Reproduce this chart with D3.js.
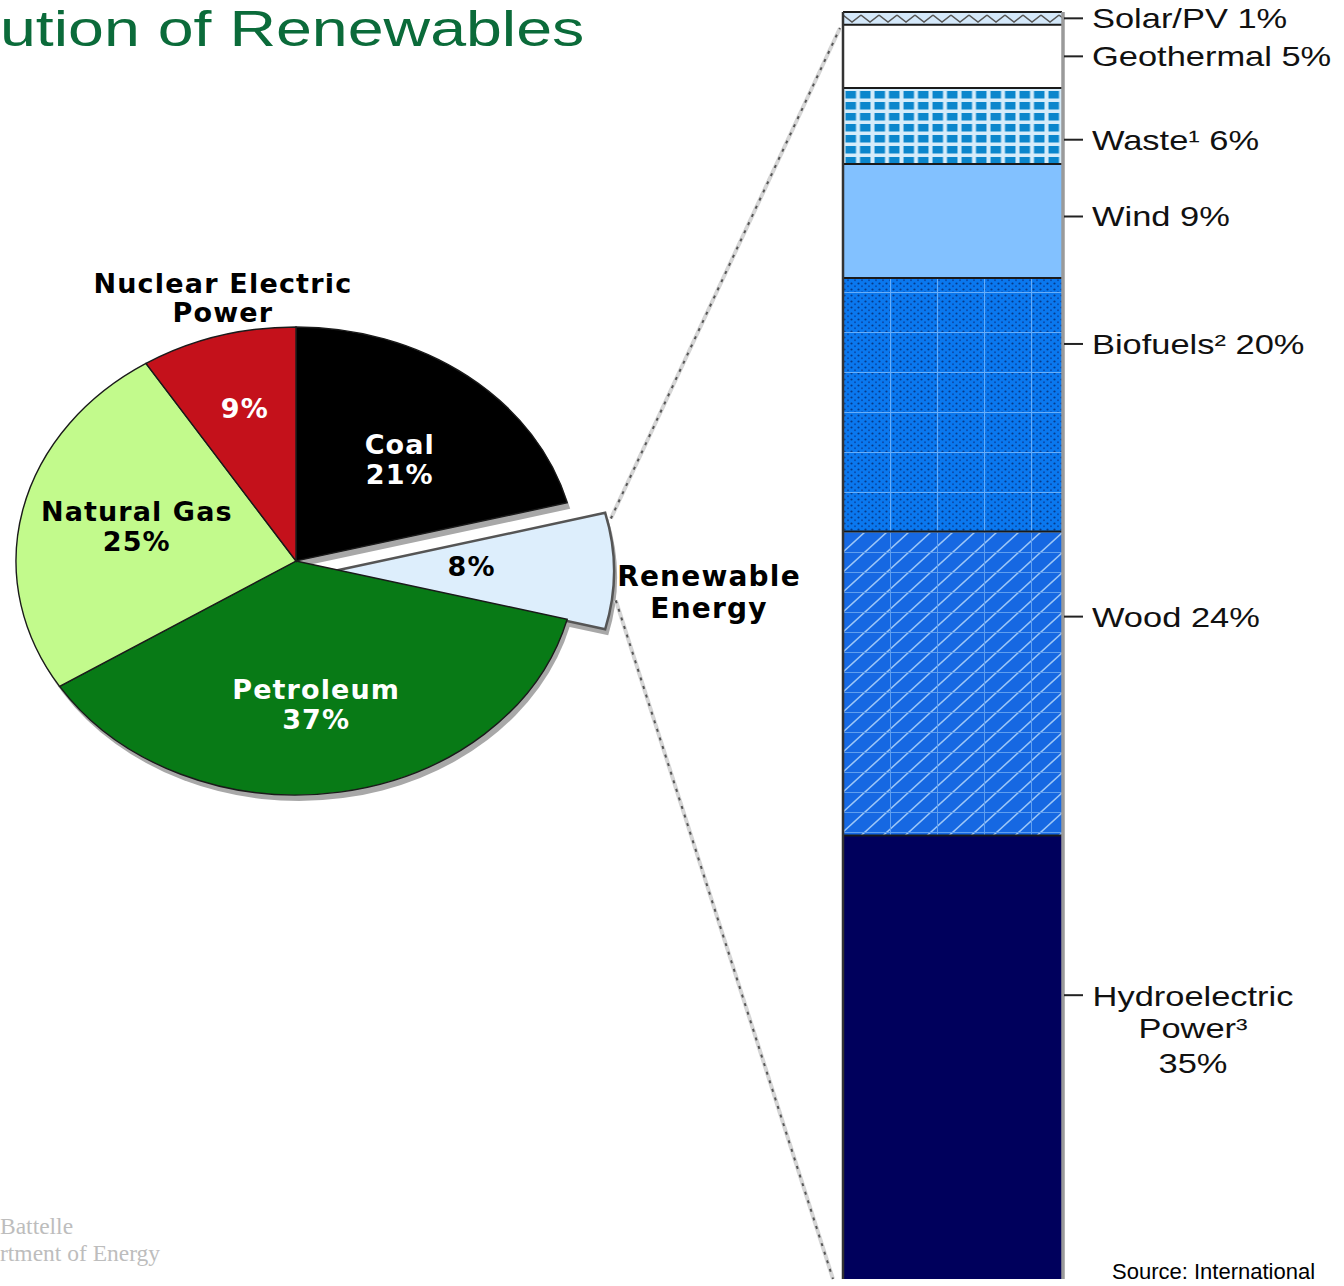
<!DOCTYPE html>
<html><head><meta charset="utf-8">
<script src="https://cdn.jsdelivr.net/npm/d3@7"></script>
<style>body{margin:0;background:#fff;} svg{display:block;}</style>
</head><body>
<svg id="chart" width="1344" height="1286"></svg>
<script>
// ---------- DATA ----------
const pieCategories = ["Coal", "Renewable Energy", "Petroleum", "Natural Gas", "Nuclear Electric Power"];
const pieValues = [21, 8, 37, 25, 9];
const renewCategories = ["Solar/PV", "Geothermal", "Waste¹", "Wind", "Biofuels²", "Wood", "Hydroelectric Power³"];
const renewValues = [1, 5, 6, 9, 20, 24, 35];
const titleText = "ution of Renewables";          // visible part of the slide title
const footerLines = ["Battelle", "rtment of Energy"]; // visible part of the footer
const sourceText = "Source: International";

// ---------- SETUP ----------
const svg = d3.select("#chart");
const defs = svg.append("defs");

svg.append("text")
  .attr("transform", "translate(0,46) scale(1.29,1)")
  .attr("font-family", "Liberation Sans, Arial, sans-serif")
  .attr("font-size", 50)
  .attr("fill", "#0b6b3a")
  .text(titleText);

// ---------- PIE ----------
const cx = 296, cy = 561, rx = 280, ry = 234, sy = ry / rx;
const pieColors = ["#000000", "#ddeefc", "#087a16", "#c2fa8c", "#c4111b"];
const pieText = ["#ffffff", "#000000", "#ffffff", "#000000", "#ffffff"];
const labelR = [0.57, 0.52, 0.62, 0.59, 0.68];
const labelNudge = [[6, 3], [-8, -5], [-7, 0], [2, -5], [2, 0]];
const explode = [[0, 0], [38, 10], [0, 0], [0, 0], [0, 0]];
const arcs = d3.pie().sort(null).value(d => d)(pieValues);
const arc = d3.arc().innerRadius(0).outerRadius(rx);

const pieG = svg.append("g").attr("transform", `translate(${cx},${cy})`);
pieG.selectAll("path.shadow").data(arcs).join("path")
  .attr("class", "shadow")
  .attr("transform", (d, i) => `translate(${explode[i][0] + 3},${explode[i][1] + 6}) scale(1,${sy})`)
  .attr("d", arc)
  .attr("fill", "#a8a8a8");
pieG.selectAll("path.slice").data(arcs).join("path")
  .attr("class", "slice")
  .attr("transform", (d, i) => `translate(${explode[i][0]},${explode[i][1]}) scale(1,${sy})`)
  .attr("d", arc)
  .attr("fill", (d, i) => pieColors[i])
  .attr("stroke", (d, i) => i === 1 ? "#555" : "#1a1a1a")
  .attr("stroke-width", (d, i) => i === 1 ? 2.5 : 1.4)
  .attr("vector-effect", "non-scaling-stroke");

function piePoint(d, i, f) {
  const m = (d.startAngle + d.endAngle) / 2;
  return [explode[i][0] + f * rx * Math.sin(m), explode[i][1] - f * ry * Math.cos(m)];
}
const pieFont = "DejaVu Sans, Verdana, sans-serif";
arcs.forEach((d, i) => {
  let [x, y] = piePoint(d, i, labelR[i]);
  x += labelNudge[i][0]; y += labelNudge[i][1];
  const pct = pieValues[i] + "%";
  const lines = (i === 1 || i === 4) ? [pct] : [pieCategories[i], pct];
  const lh = 30;
  const t = pieG.append("text")
    .attr("font-family", pieFont).attr("font-weight", "bold").attr("font-size", 27)
    .attr("letter-spacing", 1.1)
    .attr("text-anchor", "middle").attr("fill", pieText[i]);
  lines.forEach((s, k) => {
    t.append("tspan").attr("x", x).attr("y", y + (k - (lines.length - 1) / 2) * lh + 10).text(s);
  });
});

function outsideLabel(lines, x, y, size, lh) {
  const t = pieG.append("text")
    .attr("font-family", pieFont).attr("font-weight", "bold").attr("font-size", size)
    .attr("letter-spacing", 1.2)
    .attr("text-anchor", "middle").attr("fill", "#000");
  lines.forEach((s, k) => t.append("tspan").attr("x", x).attr("y", y + k * lh + 10).text(s));
}
{
  const [x] = piePoint(arcs[4], 4, 1.0);
  outsideLabel(["Nuclear Electric", "Power"], x + 5, -ry - 44, 27, 29);
  const [x2, y2] = piePoint(arcs[1], 1, 1.0);
  outsideLabel(["Renewable", "Energy"], x2 + 95, y2 + 5, 28, 32);
}

// ---------- STACKED BAR ----------
const barX0 = 843, barX1 = 1062;
const yScale = d3.scaleLinear().domain([0, 100]).range([12, 1279]);
let cum = 0;
const segs = renewValues.map((v, i) => { const s = { i, name: renewCategories[i], v, y0: cum, y1: cum + v }; cum += v; return s; });

function pat(id, w, h) {
  return defs.append("pattern").attr("id", id).attr("patternUnits", "userSpaceOnUse")
    .attr("width", w).attr("height", h).attr("x", barX0).attr("y", 12);
}
const pS = pat("pSolar", 18, 12);
pS.append("rect").attr("width", 18).attr("height", 12).attr("fill", "#d4e8fa");
pS.append("path").attr("d", "M0,3 L9,10 L18,3").attr("stroke", "#555").attr("stroke-width", 1.4).attr("fill", "none");

const pW = pat("pWaste", 14.5, 11);
pW.append("rect").attr("width", 14.5).attr("height", 11).attr("fill", "#d6ecfa");
pW.append("rect").attr("x", 2.5).attr("y", 2).attr("width", 10.5).attr("height", 7.5).attr("fill", "#0b86cc");

const pSp = pat("pSpeck", 7, 6);
pSp.append("circle").attr("cx", 1.5).attr("cy", 1.5).attr("r", 1.1).attr("fill", "#062f78").attr("opacity", 0.85);
pSp.append("circle").attr("cx", 5).attr("cy", 4.2).attr("r", 1.0).attr("fill", "#0a44a0").attr("opacity", 0.85);

const pGB = pat("pGridB", 47, 40);
pGB.append("path").attr("d", "M0.5,0 V40 M0,0.5 H47").attr("stroke", "#66adf9").attr("stroke-width", 1.2).attr("fill", "none");

const pD = pat("pDiag", 22, 20);
pD.append("path").attr("d", "M-2,21.8 L24,-1.8 M-2,1.8 L2,-1.8 M20,21.8 L24,18.2").attr("stroke", "#9cc6f7").attr("stroke-width", 1.6).attr("fill", "none");

const pGW = pat("pGridW", 47, 20);
pGW.append("path").attr("d", "M0.5,0 V20 M0,0.5 H47").attr("stroke", "#5f9ff0").attr("stroke-width", 1).attr("fill", "none");

const segFill = ["url(#pSolar)", "#ffffff", "url(#pWaste)", "#82c1ff", "#0a78ef", "#1668e2", "#00005c"];
const segOver = [[], [], [], [], ["url(#pSpeck)", "url(#pGridB)"], ["url(#pDiag)", "url(#pGridW)"], []];

const barG = svg.append("g");
segs.forEach(s => {
  const y0 = yScale(s.y0), y1 = yScale(s.y1);
  barG.append("rect").attr("x", barX0).attr("y", y0).attr("width", barX1 - barX0).attr("height", y1 - y0)
    .attr("fill", segFill[s.i]);
  segOver[s.i].forEach(f => {
    barG.append("rect").attr("x", barX0).attr("y", y0).attr("width", barX1 - barX0).attr("height", y1 - y0).attr("fill", f);
  });
});
segs.forEach(s => {
  barG.append("line").attr("x1", barX0).attr("x2", barX1).attr("y1", yScale(s.y0)).attr("y2", yScale(s.y0))
    .attr("stroke", "#1a1a1a").attr("stroke-width", 2);
});
barG.append("line").attr("x1", barX0).attr("x2", barX0).attr("y1", yScale(0)).attr("y2", yScale(100)).attr("stroke", "#333").attr("stroke-width", 2.5);
barG.append("line").attr("x1", barX1 + 1).attr("x2", barX1 + 1).attr("y1", yScale(0)).attr("y2", yScale(100)).attr("stroke", "#9a9a9a").attr("stroke-width", 3.5);

const labelFrac = [0.5, 0.5, 0.68, 0.46, 0.26, 0.28, 0.36];
const lblFont = "Liberation Sans, Arial, sans-serif";
segs.forEach(s => {
  const ly = yScale(s.y0 + labelFrac[s.i] * s.v);
  barG.append("line").attr("x1", barX1 + 2).attr("x2", barX1 + 21).attr("y1", ly).attr("y2", ly)
    .attr("stroke", "#222").attr("stroke-width", 2);
  if (s.i < segs.length - 1) {
    barG.append("text").attr("transform", `translate(${barX1 + 30},${ly + 10}) scale(1.23,1)`)
      .attr("font-family", lblFont).attr("font-size", 28).attr("fill", "#111")
      .text(`${s.name} ${s.v}%`);
  } else {
    const words = s.name.split(" ");
    const lines = [words[0], words.slice(1).join(" "), s.v + "%"];
    const gap = [0, 32, 67];
    lines.forEach((l, k) => {
      barG.append("text").attr("transform", `translate(${barX1 + 131},${ly + 11 + gap[k]}) scale(1.23,1)`)
        .attr("text-anchor", "middle")
        .attr("font-family", lblFont).attr("font-size", 28).attr("fill", "#111")
        .text(l);
    });
  }
});

// ---------- CONNECTING LINES ----------
{
  const r = arcs[1];
  const ang = a => [cx + explode[1][0] + rx * Math.sin(a), cy + explode[1][1] - ry * Math.cos(a)];
  const pTop = ang(r.startAngle + 0.05 * (r.endAngle - r.startAngle));
  const pBot = ang(r.startAngle + 0.75 * (r.endAngle - r.startAngle));
  const ends = [[pTop, [barX0 - 3, yScale(0) + 16]], [pBot, [barX0 - 10, yScale(100)]]];
  ends.forEach(([a, b]) => {
    svg.append("line").attr("x1", a[0] + 4).attr("y1", a[1]).attr("x2", b[0]).attr("y2", b[1])
      .attr("stroke", "#d6d6d6").attr("stroke-width", 4);
    svg.append("line").attr("x1", a[0] + 4).attr("y1", a[1]).attr("x2", b[0]).attr("y2", b[1])
      .attr("stroke", "#555").attr("stroke-width", 2).attr("stroke-dasharray", "3 6");
  });
}

// ---------- FOOTER ----------
const foot = svg.append("text").attr("font-family", "Liberation Serif, Times New Roman, serif")
  .attr("font-size", 23.5).attr("fill", "#bdbdbd");
foot.append("tspan").attr("x", 0).attr("y", 1234).text(footerLines[0]);
foot.append("tspan").attr("x", 0).attr("y", 1261).text(footerLines[1]);

svg.append("text").attr("x", 1112).attr("y", 1279)
  .attr("font-family", lblFont).attr("font-size", 22).attr("fill", "#000")
  .text(sourceText);
</script>
</body></html>
